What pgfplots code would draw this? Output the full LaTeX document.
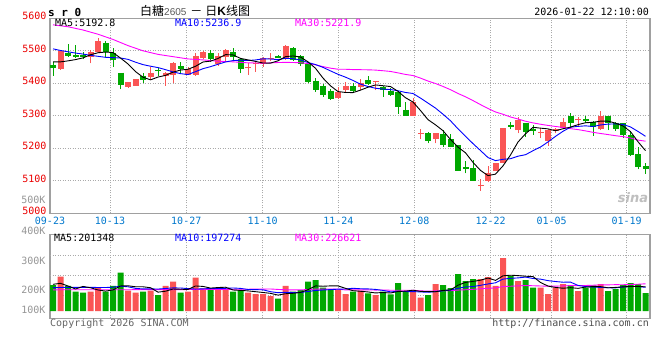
\documentclass[border=0pt]{standalone}
\usepackage{fontspec}
\setmainfont{DejaVu Sans}
\setmonofont{DejaVu Sans Mono}
\newfontfamily\cjk{Noto Sans CJK SC}
\newfontfamily\arial{Liberation Sans}
\usepackage{pgfplots}
\pgfplotsset{compat=1.18}
\definecolor{cred}{RGB}{250,85,85}
\definecolor{cgreen}{RGB}{0,168,0}
\definecolor{cborder}{RGB}{160,160,160}
\definecolor{cgrid}{RGB}{170,170,170}
\definecolor{cdate}{RGB}{0,120,205}
\definecolor{cprice}{RGB}{235,0,0}
\definecolor{cvol}{RGB}{150,150,150}
\definecolor{cmag}{RGB}{255,0,255}
\definecolor{cblue}{RGB}{0,0,255}
\newcommand{\mf}{\ttfamily\fontsize{10}{10}\selectfont}
% #1 index, #2 open, #3 high, #4 low, #5 close
\newcommand{\candR}[5]{\addplot[cred, line width=1pt, no marks] coordinates {(#1,#4) (#1,#3)};\addplot[cred, line width=6pt, no marks] coordinates {(#1,#2) (#1,#5)};}
\newcommand{\candG}[5]{\addplot[cgreen, line width=1pt, no marks] coordinates {(#1,#4) (#1,#3)};\addplot[cgreen, line width=6pt, no marks] coordinates {(#1,#2) (#1,#5)};}
\begin{document}
\begin{tikzpicture}
\fill[white] (0pt,0pt) rectangle (660pt,360pt);
\path[use as bounding box] (0pt,0pt) rectangle (660pt,360pt);
\begin{axis}[
 at={(50pt,146.7pt)}, anchor=south west, scale only axis, width=600pt, height=195pt,
 xmin=-0.4, xmax=79.6, ymin=5000, ymax=5600,
 axis line style={cborder, line width=1.2pt},
 xtick={-0.4,7.6,17.77,27.96,38.04,48.17,58.36,66.49,76.49},
 xticklabels={09-23,10-13,10-27,11-10,11-24,12-08,12-22,01-05,01-19},
 ytick={5000,5100,5200,5300,5400,5500,5600},
 yticklabels={5000,5100,5200,5300,5400,5500,5600},
 major tick length=0pt,
 grid=major, grid style={cgrid, line width=0.8pt, dash pattern=on 1pt off 1.5pt},
 xticklabel style={font=\mf, text=cdate, inner sep=0pt, anchor=north, yshift=-4pt},
 yticklabel style={font=\mf, text=cprice, inner sep=0pt, anchor=east, xshift=-3.3pt, yshift=2pt},
]
\candG{0}{5457}{5465}{5423}{5447}
\candR{1}{5444}{5502}{5441}{5499}
\candG{2}{5493}{5521}{5482}{5485}
\candG{3}{5487}{5518}{5477}{5480}
\candG{4}{5487}{5497}{5474}{5480}
\candR{5}{5482}{5502}{5461}{5495}
\candR{6}{5497}{5538}{5492}{5530}
\candG{7}{5523}{5530}{5482}{5496}
\candG{8}{5494}{5508}{5451}{5472}
\candG{9}{5433}{5433}{5381}{5395}
\candR{10}{5390}{5405}{5387}{5405}
\candR{11}{5393}{5413}{5392}{5412}
\candG{12}{5423}{5431}{5400}{5410}
\candR{13}{5418}{5451}{5410}{5431}
\candG{14}{5441}{5446}{5424}{5438}
\candR{15}{5423}{5436}{5392}{5431}
\candR{16}{5426}{5467}{5400}{5461}
\candG{17}{5453}{5467}{5431}{5443}
\candR{18}{5426}{5451}{5426}{5443}
\candR{19}{5426}{5494}{5423}{5484}
\candR{20}{5477}{5500}{5474}{5497}
\candG{21}{5492}{5502}{5467}{5474}
\candR{22}{5460}{5494}{5454}{5484}
\candR{23}{5480}{5505}{5467}{5502}
\candG{24}{5495}{5508}{5472}{5480}
\candG{25}{5474}{5477}{5431}{5443}
\candR{26}{5446}{5461}{5426}{5451}
\candR{27}{5458}{5467}{5436}{5461}
\candR{28}{5459}{5480}{5451}{5477}
\candR{29}{5477}{5492}{5470}{5479}
\candG{30}{5484}{5487}{5477}{5478}
\candR{31}{5475}{5518}{5472}{5515}
\candG{32}{5508}{5513}{5470}{5472}
\candG{33}{5484}{5487}{5454}{5460}
\candG{34}{5460}{5464}{5402}{5405}
\candG{35}{5407}{5415}{5374}{5379}
\candG{36}{5392}{5398}{5359}{5364}
\candG{37}{5377}{5382}{5349}{5353}
\candR{38}{5354}{5390}{5351}{5372}
\candR{39}{5379}{5404}{5374}{5391}
\candG{40}{5392}{5402}{5374}{5377}
\candR{41}{5388}{5412}{5379}{5402}
\candG{42}{5410}{5421}{5395}{5398}
\candR{43}{5404}{5407}{5379}{5407}
\candG{44}{5390}{5392}{5359}{5379}
\candG{45}{5377}{5385}{5361}{5364}
\candG{46}{5374}{5377}{5306}{5328}
\candG{47}{5318}{5341}{5300}{5300}
\candR{48}{5300}{5354}{5300}{5341}
\candR{49}{5244}{5258}{5228}{5248}
\candG{50}{5246}{5251}{5215}{5224}
\candR{51}{5230}{5248}{5215}{5248}
\candG{52}{5244}{5256}{5205}{5210}
\candG{53}{5228}{5244}{5203}{5205}
\candG{54}{5210}{5210}{5131}{5131}
\candG{55}{5142}{5162}{5123}{5137}
\candG{56}{5139}{5164}{5100}{5100}
\candR{57}{5084}{5105}{5070}{5087}
\candR{58}{5100}{5146}{5095}{5125}
\candR{59}{5130}{5154}{5130}{5154}
\candR{60}{5156}{5264}{5154}{5264}
\candG{61}{5272}{5282}{5258}{5267}
\candR{62}{5256}{5295}{5246}{5287}
\candG{63}{5279}{5279}{5236}{5251}
\candG{64}{5258}{5272}{5241}{5254}
\candR{65}{5248}{5261}{5231}{5251}
\candR{66}{5223}{5259}{5208}{5256}
\candR{67}{5254}{5262}{5246}{5258}
\candR{68}{5262}{5292}{5258}{5282}
\candG{69}{5300}{5308}{5265}{5279}
\candR{70}{5286}{5295}{5265}{5289}
\candG{71}{5289}{5300}{5277}{5285}
\candG{72}{5282}{5285}{5238}{5265}
\candR{73}{5258}{5316}{5256}{5300}
\candG{74}{5300}{5300}{5256}{5279}
\candG{75}{5279}{5282}{5254}{5258}
\candG{76}{5277}{5279}{5231}{5241}
\candG{77}{5241}{5251}{5176}{5179}
\candG{78}{5182}{5203}{5135}{5144}
\candG{79}{5146}{5156}{5121}{5135}
% MA30
\addplot[cmag, line width=0.9pt, no marks, sharp plot] coordinates {(0,5580)(2,5574)(4,5564)(6,5551)(8,5535)(10,5516)(12,5500)(14,5489)(16,5482)(18,5475)(20,5472)(22,5468)(24,5466)(26,5463)(28,5462)(29,5462.8)(30,5463.9)(31,5464.4)(32,5464.0)(33,5463.3)(34,5460.8)(35,5456.9)(36,5451.4)(37,5446.6)(38,5443.3)(39,5443.2)(40,5442.2)(41,5441.9)(42,5441.5)(43,5440.7)(44,5438.7)(45,5436.5)(46,5432.1)(47,5427.3)(48,5423.9)(49,5416.0)(50,5406.9)(51,5399.4)(52,5390.3)(53,5380.4)(54,5368.7)(55,5358.5)(56,5346.8)(57,5334.4)(58,5322.6)(59,5311.8)(60,5304.7)(61,5296.4)(62,5290.2)(63,5283.3)(64,5278.2)(65,5274.0)(66,5270.4)(67,5267.2)(68,5264.2)(69,5260.5)(70,5257.5)(71,5253.6)(72,5249.2)(73,5245.6)(74,5242.3)(75,5238.8)(76,5235.9)(77,5231.8)(78,5225.3)(79,5221.9)};
% MA10
\addplot[cblue, line width=0.9pt, no marks, sharp plot] coordinates {(0,5506)(1,5501)(2,5497)(3,5493)(4,5490)(5,5486)(6,5483)(7,5480)(8,5479)(9,5477.9)(10,5473.7)(11,5465.0)(12,5457.5)(13,5452.6)(14,5448.4)(15,5442.0)(16,5435.1)(17,5429.8)(18,5426.9)(19,5435.8)(20,5445.0)(21,5451.2)(22,5458.6)(23,5465.7)(24,5469.9)(25,5471.1)(26,5470.1)(27,5471.9)(28,5475.3)(29,5474.8)(30,5472.9)(31,5477.0)(32,5475.8)(33,5471.6)(34,5464.1)(35,5457.7)(36,5449.0)(37,5438.2)(38,5427.7)(39,5418.9)(40,5408.8)(41,5397.5)(42,5390.1)(43,5384.8)(44,5382.2)(45,5380.7)(46,5377.1)(47,5371.8)(48,5368.7)(49,5354.4)(50,5339.1)(51,5323.7)(52,5304.9)(53,5284.7)(54,5259.9)(55,5237.2)(56,5214.4)(57,5193.1)(58,5171.5)(59,5162.1)(60,5166.1)(61,5168.0)(62,5175.7)(63,5180.3)(64,5192.6)(65,5204.0)(66,5219.6)(67,5236.7)(68,5252.4)(69,5264.9)(70,5267.4)(71,5269.2)(72,5267.0)(73,5271.9)(74,5274.4)(75,5275.1)(76,5273.6)(77,5265.7)(78,5251.9)(79,5236.9)};
% MA5
\addplot[black, line width=0.9pt, no marks, sharp plot] coordinates {(0,5466)(1,5466)(2,5469)(3,5473)(4,5478.2)(5,5487.8)(6,5494.0)(7,5496.2)(8,5494.6)(9,5477.6)(10,5459.6)(11,5436.0)(12,5418.8)(13,5410.6)(14,5419.2)(15,5424.4)(16,5434.2)(17,5440.8)(18,5443.2)(19,5452.4)(20,5465.6)(21,5468.2)(22,5476.4)(23,5488.2)(24,5487.4)(25,5476.6)(26,5472.0)(27,5467.4)(28,5462.4)(29,5462.2)(30,5469.2)(31,5482.0)(32,5484.2)(33,5480.8)(34,5466.0)(35,5446.2)(36,5416.0)(37,5392.2)(38,5374.6)(39,5371.8)(40,5371.4)(41,5379.0)(42,5388.0)(43,5395.0)(44,5392.6)(45,5390.0)(46,5375.2)(47,5355.6)(48,5342.4)(49,5316.2)(50,5288.2)(51,5272.2)(52,5254.2)(53,5227.0)(54,5203.6)(55,5186.2)(56,5156.6)(57,5132.0)(58,5116.0)(59,5120.6)(60,5146.0)(61,5179.4)(62,5219.4)(63,5244.6)(64,5264.6)(65,5262.0)(66,5259.8)(67,5254.0)(68,5260.2)(69,5265.2)(70,5272.8)(71,5278.6)(72,5280.0)(73,5283.6)(74,5283.6)(75,5277.4)(76,5268.6)(77,5251.4)(78,5220.2)(79,5192.8)};
\end{axis}
\begin{axis}[
 at={(50pt,41.7pt)}, anchor=south west, scale only axis, width=600pt, height=84pt,
 xmin=-0.4, xmax=79.6, ymin=-60.8, ymax=638.6,
 axis line style={cborder, line width=1.2pt},
 xtick={-0.4,7.6,17.77,27.96,38.04,48.17,58.36,66.49,76.49}, xticklabels={},
 xmajorgrids=true,
 ytick={8.3,174.8,416.3}, yticklabels={100K,200K,300K},
 extra y ticks={127.4,293.9,460.4}, extra y tick labels={}, extra y tick style={grid=major},
 major tick length=0pt,
 grid style={cgrid, line width=0.8pt, dash pattern=on 1pt off 1.5pt},
 yticklabel style={font=\mf, text=cvol, inner sep=0pt, anchor=east, xshift=-4.3pt},
]
\addplot[ybar, bar width=6pt, bar shift=0pt, fill=cred, draw=none] coordinates {(1,285.6)(5,160.7)(6,194.0)(10,169.0)(11,152.4)(13,169.0)(15,208.2)(16,244.0)(18,160.7)(19,277.3)(20,189.0)(22,174.8)(23,174.8)(26,152.4)(27,141.5)(28,141.5)(29,124.9)(31,208.2)(38,174.8)(39,141.5)(41,169.0)(43,133.2)(48,172.3)(49,110.7)(51,224.8)(57,266.4)(58,283.1)(59,208.2)(60,441.3)(62,249.8)(65,194.0)(66,141.5)(67,194.0)(68,224.8)(70,166.5)(73,224.8)};
\addplot[ybar, bar width=6pt, bar shift=0pt, fill=cgreen, draw=none] coordinates {(0,216.5)(2,208.2)(3,160.7)(4,152.4)(7,160.7)(8,208.2)(9,318.9)(12,160.7)(14,133.2)(17,152.4)(21,174.8)(24,160.7)(25,174.8)(30,102.4)(32,160.7)(33,174.8)(34,244.0)(35,258.1)(36,194.0)(37,174.8)(40,160.7)(42,147.4)(44,160.7)(45,139.0)(46,233.1)(47,160.7)(50,133.2)(52,216.5)(53,191.5)(54,308.1)(55,249.8)(56,266.4)(61,291.4)(63,258.1)(64,194.0)(69,216.5)(71,194.0)(72,214.0)(74,166.5)(75,183.2)(76,216.5)(77,233.1)(78,224.8)(79,149.9)};
\addplot[cmag, line width=0.9pt, no marks, sharp plot] coordinates {(0,176.5)(10,177.3)(20,179.0)(28,182.3)(29,183.4)(30,179.6)(31,177.0)(32,175.4)(33,175.9)(34,178.9)(35,182.2)(36,182.2)(37,182.7)(38,181.6)(39,175.7)(40,175.3)(41,175.9)(42,175.5)(43,174.3)(44,175.2)(45,172.9)(46,172.5)(47,172.8)(48,173.2)(49,167.7)(50,165.8)(51,167.4)(52,168.9)(53,169.4)(54,174.3)(55,176.8)(56,180.6)(57,184.8)(58,189.5)(59,192.2)(60,203.6)(61,206.3)(62,209.3)(63,212.1)(64,210.4)(65,208.3)(66,206.6)(67,207.2)(68,208.8)(69,211.3)(70,211.6)(71,212.4)(72,214.6)(73,217.6)(74,217.8)(75,219.3)(76,218.7)(77,221.1)(78,222.9)(79,226.6)};
\addplot[cblue, line width=0.9pt, no marks, sharp plot] coordinates {(0,194.0)(1,195.7)(2,197.3)(3,197.3)(4,197.3)(5,197.3)(6,195.7)(7,195.7)(8,198.0)(9,206.6)(10,201.8)(11,188.5)(12,183.8)(13,184.6)(14,182.7)(15,187.4)(16,192.4)(17,191.6)(18,186.8)(19,182.7)(20,184.7)(21,186.9)(22,188.3)(23,188.9)(24,191.7)(25,188.3)(26,179.2)(27,178.1)(28,176.2)(29,160.9)(30,152.3)(31,155.6)(32,154.2)(33,154.2)(34,162.5)(35,170.8)(36,175.0)(37,178.3)(38,181.7)(39,183.3)(40,189.2)(41,185.3)(42,183.9)(43,179.8)(44,171.4)(45,159.5)(46,163.4)(47,162.0)(48,161.8)(49,158.7)(50,155.9)(51,161.5)(52,168.4)(53,174.3)(54,189.0)(55,200.1)(56,203.4)(57,214.0)(58,225.1)(59,234.8)(60,265.6)(61,272.3)(62,275.6)(63,282.3)(64,270.8)(65,265.3)(66,252.8)(67,245.5)(68,239.7)(69,240.5)(70,213.1)(71,203.3)(72,199.7)(73,196.4)(74,193.7)(75,192.6)(76,200.1)(77,204.0)(78,204.0)(79,197.3)};
\addplot[black, line width=0.9pt, no marks, sharp plot] coordinates {(0,222.3)(1,230.6)(2,208.2)(3,183.2)(4,204.7)(5,193.5)(6,175.2)(7,165.7)(8,175.2)(9,208.5)(10,210.1)(11,201.8)(12,201.8)(13,194.0)(14,156.9)(15,164.7)(16,183.0)(17,181.3)(18,179.7)(19,208.5)(20,204.7)(21,190.8)(22,195.3)(23,198.2)(24,174.8)(25,172.0)(26,167.5)(27,160.9)(28,154.2)(29,147.0)(30,132.5)(31,143.7)(32,147.5)(33,154.2)(34,178.0)(35,209.1)(36,206.3)(37,209.1)(38,209.1)(39,188.7)(40,169.2)(41,164.2)(42,158.7)(43,150.4)(44,154.2)(45,149.9)(46,162.7)(47,165.4)(48,173.2)(49,163.2)(50,162.0)(51,160.4)(52,171.5)(53,175.3)(54,214.8)(55,238.1)(56,246.4)(57,256.4)(58,274.8)(59,254.8)(60,293.1)(61,298.1)(62,294.7)(63,289.7)(64,286.9)(65,237.5)(66,207.5)(67,196.3)(68,189.7)(69,194.2)(70,188.7)(71,199.2)(72,203.2)(73,203.2)(74,193.2)(75,196.5)(76,201.0)(77,204.8)(78,204.8)(79,201.3)};
\end{axis}
% texts
\node[anchor=west, inner sep=0pt, font=\ttfamily\bfseries\fontsize{11}{11}\selectfont] at (48pt,348pt) {s r 0};
\node[anchor=base west, inner sep=0pt] at (140pt,344.5pt) {\cjk\fontsize{12}{12}\selectfont 白糖{\arial\fontsize{10}{10}\selectfont\color{black!65}2605}\hspace{4pt}－\hspace{3pt}日{\arial\bfseries K}线图};
\node[anchor=east, inner sep=0pt, font=\mf] at (649pt,348pt) {2026-01-22 12:10:00};
\node[anchor=west, inner sep=0pt, font=\mf] at (55pt,336.7pt) {MA5:5192.8};
\node[anchor=west, inner sep=0pt, font=\mf, text=cblue] at (175pt,336.7pt) {MA10:5236.9};
\node[anchor=west, inner sep=0pt, font=\mf, text=cmag] at (295pt,336.7pt) {MA30:5221.9};
\node[anchor=east, inner sep=0pt, font=\mf, text=cvol] at (45.7pt,160pt) {500K};
\node[anchor=east, inner sep=0pt, font=\mf, text=cvol] at (45.7pt,129pt) {400K};
\node[anchor=west, inner sep=0pt, font=\mf] at (54pt,122.3pt) {MA5:201348};
\node[anchor=west, inner sep=0pt, font=\mf, text=cblue] at (175pt,122.3pt) {MA10:197274};
\node[anchor=west, inner sep=0pt, font=\mf, text=cmag] at (295pt,122.3pt) {MA30:226621};
\node[anchor=west, inner sep=0pt, font=\mf, text=black!60] at (50pt,36.7pt) {Copyright 2026 SINA.COM};
\node[anchor=east, inner sep=0pt, font=\mf, text=black!70] at (649pt,36pt) {http://finance.sina.com.cn};
\node[inner sep=0pt, font=\bfseries\itshape\fontsize{13}{13}\selectfont, text=black!25] at (633pt,162pt) {sina};
\end{tikzpicture}
\end{document}
